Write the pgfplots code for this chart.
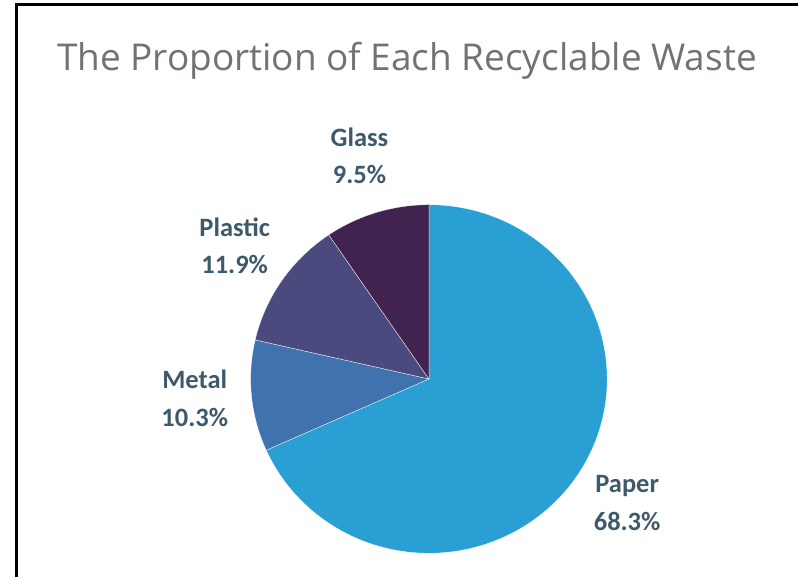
\documentclass[border=0pt]{standalone}
\usepackage{pgfplots}
\pgfplotsset{compat=1.18}
\usepackage{fontspec}
\setmainfont{Carlito}
\newfontfamily\titlefont{Open Sans}
\definecolor{cpaper}{HTML}{2A9FD4}
\definecolor{cmetal}{HTML}{4072AE}
\definecolor{cplastic}{HTML}{4A4A7E}
\definecolor{cglass}{HTML}{42234F}
\definecolor{clabel}{HTML}{3D5A6C}
\definecolor{ctitle}{HTML}{767171}
% slice values in percent: Paper 68.3, Metal 10.3, Plastic 11.9, Glass 9.5
\newcommand{\cx}{429.5}
\newcommand{\cy}{379.5}
\newcommand{\rx}{178.5}
\newcommand{\ry}{174.5}
\begin{document}
\begin{tikzpicture}
\begin{axis}[
  width=799bp, height=578bp, scale only axis,
  xmin=0, xmax=799, ymin=0, ymax=578, y dir=reverse,
  hide axis, clip=false,
]
\path[fill=white] (axis cs:0,0) rectangle (axis cs:799,578);
\addplot[fill=cpaper, draw=white, line width=0.3pt, domain={90-3.6*68.3}:90, samples=150, variable=\t]
  ({\cx+\rx*cos(t)}, {\cy-\ry*sin(t)}) -- (axis cs:\cx,\cy) -- cycle;
\addplot[fill=cmetal, draw=white, line width=0.3pt, domain={90-3.6*(68.3+10.3)}:{90-3.6*68.3}, samples=40, variable=\t]
  ({\cx+\rx*cos(t)}, {\cy-\ry*sin(t)}) -- (axis cs:\cx,\cy) -- cycle;
\addplot[fill=cplastic, draw=white, line width=0.3pt, domain={90-3.6*(68.3+10.3+11.9)}:{90-3.6*(68.3+10.3)}, samples=40, variable=\t]
  ({\cx+\rx*cos(t)}, {\cy-\ry*sin(t)}) -- (axis cs:\cx,\cy) -- cycle;
\addplot[fill=cglass, draw=white, line width=0.3pt, domain={90-3.6*(68.3+10.3+11.9+9.5)}:{90-3.6*(68.3+10.3+11.9)}, samples=40, variable=\t]
  ({\cx+\rx*cos(t)}, {\cy-\ry*sin(t)}) -- (axis cs:\cx,\cy) -- cycle;

\draw[black, line width=2.2bp] (axis cs:16.5,578) -- (axis cs:16.5,4.5) -- (axis cs:799,4.5);

\node[anchor=base, text=ctitle, font=\titlefont\fontsize{37bp}{42bp}\selectfont] at (axis cs:407.5,71) {The Proportion of Each Recyclable Waste};

\tikzset{lbl/.style={anchor=base, text=clabel, font=\bfseries\fontsize{26.5bp}{30bp}\selectfont}}
\node[lbl] at (axis cs:360,147) {Glass};
\node[lbl] at (axis cs:360,184) {9.5\%};
\node[lbl] at (axis cs:235,237) {Plastic};
\node[lbl] at (axis cs:235,274) {11.9\%};
\node[lbl] at (axis cs:195,389) {Metal};
\node[lbl] at (axis cs:195,427) {10.3\%};
\node[lbl] at (axis cs:628,493) {Paper};
\node[lbl] at (axis cs:628,531) {68.3\%};
\end{axis}
\end{tikzpicture}
\end{document}
